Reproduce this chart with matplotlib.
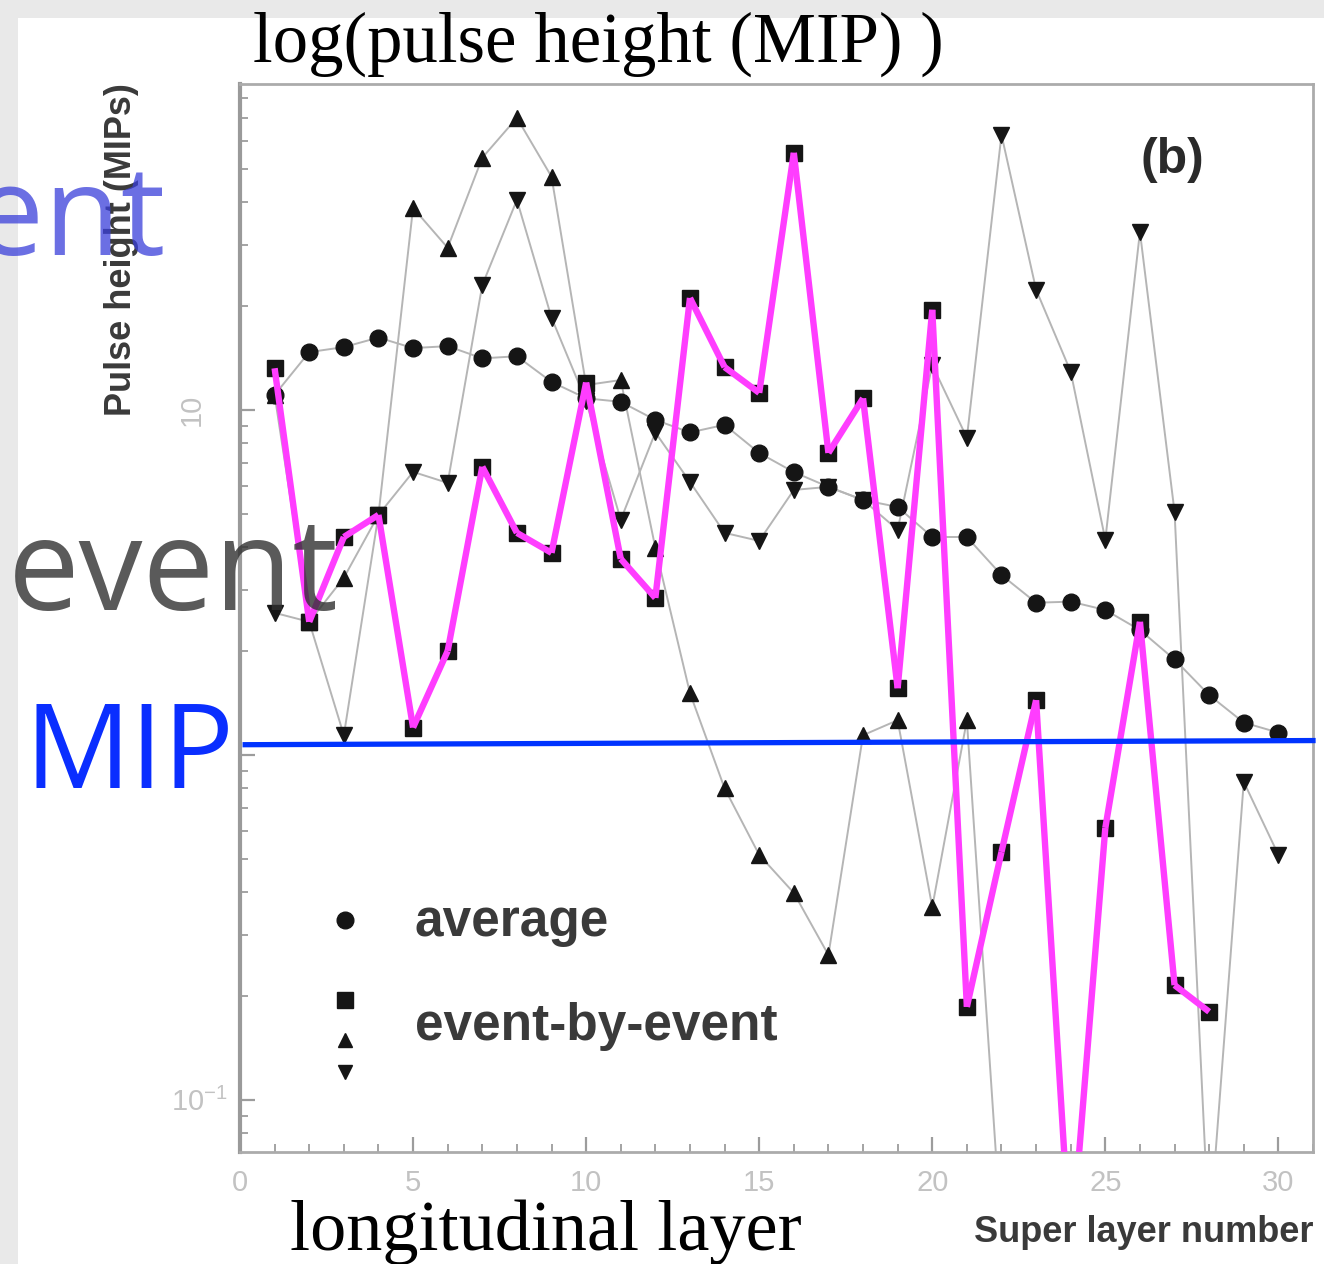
import numpy as np
import matplotlib.pyplot as plt
import matplotlib.transforms as mtransforms
from matplotlib.patches import Rectangle
from matplotlib.ticker import MultipleLocator, LogLocator, NullFormatter

plt.rcParams['font.family'] = ['Liberation Sans', 'DejaVu Sans']
plt.rcParams['mathtext.fontset'] = 'custom'
plt.rcParams['mathtext.rm'] = 'Liberation Sans'
plt.rcParams['mathtext.default'] = 'regular'

W, H = 1324, 1264

# super layer number 1..30
layers = np.arange(1, 31)

# pulse height in MIPs (0.04 = below the axis, nan = no point)
average = [11.05, 14.7, 15.2, 16.2, 15.1, 15.3, 14.1, 14.3, 12.05, 10.8,
           10.55, 9.35, 8.6, 9.05, 7.5, 6.6, 5.98, 5.48, 5.23, 4.28,
           4.28, 3.32, 2.76, 2.78, 2.63, 2.3, 1.89, 1.49, 1.24, 1.16]
event_square = [13.2, 2.43, 4.28, 4.96, 1.2, 2.0, 6.84, 4.4, 3.85, 12.0,
                3.7, 2.85, 21.1, 13.3, 11.2, 55.6, 7.5, 10.8, 1.56, 19.5,
                0.186, 0.523, 1.44, 0.035, 0.614, 2.43, 0.215, 0.18, np.nan, np.nan]
event_up = [11.05, 2.43, 3.26, 4.96, 38.5, 29.5, 53.8, 70.2, 47.4, 11.8,
            12.2, 3.98, 1.51, 0.80, 0.513, 0.398, 0.263, 1.14, 1.26, 0.362,
            1.26, 0.04, np.nan, np.nan, np.nan, np.nan, np.nan, np.nan, np.nan, np.nan]
event_down = [2.58, 2.43, 1.14, 4.96, 6.61, 6.14, 23.0, 40.6, 18.5, 10.6,
              4.8, 8.6, 6.18, 4.4, 4.17, 5.86, 5.98, 5.48, 4.49, 13.5,
              8.3, 62.7, 22.3, 12.9, 4.2, 32.8, 5.06, 0.04, 0.835, 0.513]

# hand-drawn overlays
magenta_layers = layers[:28]
mip_x = [0.15, 31.0]
mip_y = [1.07, 1.10]

fig = plt.figure(figsize=(W / 100, H / 100), dpi=100, facecolor='#e9e9e9')
fig.add_artist(Rectangle((18 / W, 0), 1 - 18 / W, 1 - 18 / H, transform=fig.transFigure,
                         facecolor='white', edgecolor='none', zorder=-5))

ax = fig.add_axes([240 / W, 1 - 1152 / H, 1073 / W, 1068 / H])
ax.set_yscale('log')
ax.set_xlim(0, 31)
ax.set_ylim(0.0706, 88)

# triangles underneath, then squares, circles on top
series = [(event_up, '^', 11, 3.0), (event_down, 'v', 11, 3.1),
          (event_square, 's', 12, 3.2), (average, 'o', 12, 3.3)]
for vals, mk, ms, z in series:
    ax.plot(layers, vals, color='#b5b5b5', lw=1.4, zorder=2)
    ax.plot(layers, vals, ls='none', marker=mk, ms=ms, color='#151515', zorder=z)

# magenta strokes, one per segment
sq = event_square[:28]
for i in range(len(magenta_layers) - 1):
    ax.plot(magenta_layers[i:i + 2], sq[i:i + 2], color='#ff3dff', lw=4.6,
            solid_capstyle='butt', zorder=4)

ax.plot(mip_x, mip_y, color='#0033ff', lw=3.8, zorder=5, clip_on=False)

# axes styling
ax.xaxis.set_major_locator(MultipleLocator(5))
ax.xaxis.set_minor_locator(MultipleLocator(1))
ax.set_yticks([0.1, 1, 10])
ax.set_yticklabels(['$10^{-1}$', '', ''])
ax.yaxis.set_minor_locator(LogLocator(base=10, subs=range(2, 10)))
ax.yaxis.set_minor_formatter(NullFormatter())
ax.tick_params(which='both', direction='in', color='#9c9c9c', top=False, right=False)
ax.tick_params(which='major', length=11, width=1.6, labelsize=21, labelcolor='#c2c2c2')
ax.tick_params(which='minor', length=6, width=1.3)
ax.tick_params(axis='x', pad=12)
ax.tick_params(axis='y', pad=9)
ylab_tr = mtransforms.blended_transform_factory(ax.transAxes, ax.transData)
ax.text(-0.045, 10, '10', transform=ylab_tr, rotation=90, ha='center', va='center',
        fontsize=21, color='#c2c2c2')
for s in ax.spines.values():
    s.set_color('#ababab')
    s.set_linewidth(2)
ax.spines['left'].set_color('#9a9a9a')
ax.spines['left'].set_linewidth(3)

ax.text(-0.11, 0.845, 'Pulse height (MIPs)', transform=ax.transAxes, rotation=90,
        ha='center', va='center', fontsize=26, fontweight='bold', color='#3a3a3a')
ax.text(1.0, -0.075, 'Super layer number', transform=ax.transAxes, ha='right',
        va='center', fontsize=26, fontweight='bold', color='#3a3a3a')
ax.text(0.8686, 0.929, '(b)', transform=ax.transAxes, ha='center', va='center',
        fontsize=36, fontweight='bold', color='#2a2a2a')

# legend
leg_kw = dict(transform=ax.transAxes, ls='none', color='#151515', clip_on=False, zorder=3)
ax.plot([0.098], [0.217], marker='o', ms=12, **leg_kw)
ax.plot([0.098], [0.142], marker='s', ms=11, **leg_kw)
ax.plot([0.098], [0.105], marker='^', ms=10, **leg_kw)
ax.plot([0.098], [0.075], marker='v', ms=10, **leg_kw)
ax.text(0.163, 0.202, 'average', transform=ax.transAxes, ha='left', va='baseline',
        fontsize=37, fontweight='bold', color='#3a3a3a')
ax.text(0.163, 0.105, 'event-by-event', transform=ax.transAxes, ha='left', va='baseline',
        fontsize=37, fontweight='bold', color='#3a3a3a')

# slide overlay text
serif = ['Liberation Serif', 'DejaVu Serif']
fig.text(598 / W, 1 - 62 / H, 'log(pulse height (MIP) )', ha='center', va='baseline',
         fontsize=51, family=serif, color='black')
fig.text(546 / W, 1 - 1250 / H, 'longitudinal layer', ha='center', va='baseline',
         fontsize=52, family=serif, color='black')
sans = ['Open Sans', 'DejaVu Sans']
fig.text(165 / W, 1 - 255 / H, 'ent', ha='right', va='baseline', fontsize=90,
         family=sans, color='#3a3fda', alpha=0.75)
fig.text(8 / W, 1 - 610 / H, 'event', ha='left', va='baseline', fontsize=92,
         family=sans, color='#313131', alpha=0.8)
fig.text(24 / W, 1 - 788 / H, 'MIP', ha='left', va='baseline', fontsize=85,
         family=sans, color='#0a2eff')

fig.savefig('out.png', dpi=100, facecolor=fig.get_facecolor())
